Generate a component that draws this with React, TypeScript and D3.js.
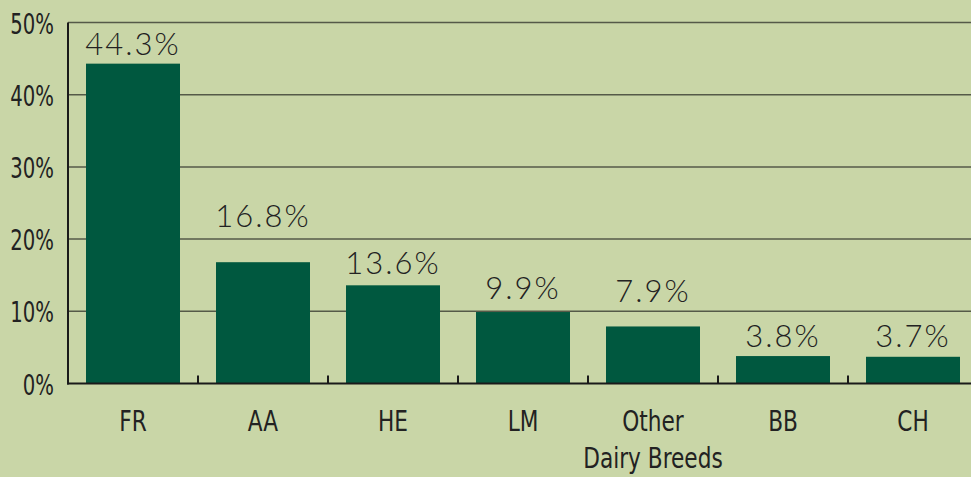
import React from "react";
import * as d3 from "d3";

const categories = ["FR", "AA", "HE", "LM", "Other\nDairy Breeds", "BB", "CH"];
const values = [44.3, 16.8, 13.6, 9.9, 7.9, 3.8, 3.7];
const yTicks = [0, 10, 20, 30, 40, 50];
// gap (px) between each bar top and its value label baseline, as in the original layout
const labelGaps = [9, 35, 11, 13, 24, 9, 10];

const W = 971;
const H = 477;
const BG = "#c9d6a7";
const BAR = "#00583f";
const TEXT = "#222222";
const CONDENSED = "'DejaVu Sans Condensed', 'DejaVu Sans', sans-serif";
const LIGHT = "'Lato Light', Lato, 'Open Sans', sans-serif";

export default function App() {
  const left = 68;
  const x = d3
    .scaleBand<string>()
    .domain(categories)
    .range([left, left + 130 * categories.length])
    .paddingInner(0.277)
    .paddingOuter(0.1385);
  const y = d3.scaleLinear().domain([0, 50]).range([383.5, 22.5]);
  const step = x.step();

  return (
    <svg
      width={W}
      height={H}
      style={{ position: "absolute", left: 0, top: 0, display: "block" }}
    >
      <rect x={0} y={0} width={W} height={H} fill={BG} />
      {yTicks.filter((t) => t > 0).map((t) => (
        <line key={t} x1={left} x2={W} y1={y(t)} y2={y(t)} stroke="#555a48" strokeWidth={1.5} />
      ))}
      {categories.map((c, i) => (
        <rect
          key={c}
          x={x(c)!}
          y={y(values[i])}
          width={x.bandwidth()}
          height={y(0) - y(values[i])}
          fill={BAR}
        />
      ))}
      <line x1={left} x2={left} y1={y(50)} y2={y(0) + 1} stroke="#1a1a1a" strokeWidth={2} />
      <line x1={left - 1} x2={W} y1={y(0)} y2={y(0)} stroke="#1a1a1a" strokeWidth={2} />
      {categories.map((c, i) => (
        <line
          key={"t" + i}
          x1={left + step * (i + 1)}
          x2={left + step * (i + 1)}
          y1={y(0)}
          y2={y(0) - 8}
          stroke="#1a1a1a"
          strokeWidth={2}
        />
      ))}
      {yTicks.map((t) => (
        <text
          key={"yl" + t}
          transform={`translate(54,${y(t) + 11}) scale(0.78,1)`}
          textAnchor="end"
          fontFamily={CONDENSED}
          fontSize={28}
          fill={TEXT}
        >
          {t}%
        </text>
      ))}
      {categories.map((c, i) => (
        <text
          key={"v" + i}
          x={x(c)! + x.bandwidth() / 2}
          y={y(values[i]) - labelGaps[i]}
          textAnchor="middle"
          fontFamily={LIGHT}
          fontWeight={300}
          fontSize={31}
          letterSpacing={2}
          fill={TEXT}
        >
          {values[i].toFixed(1)}%
        </text>
      ))}
      {categories.map((c, i) => (
        <g key={"c" + i} transform={`translate(${x(c)! + x.bandwidth() / 2},0) scale(0.86,1)`}>
          <text textAnchor="middle" fontFamily={CONDENSED} fontSize={28} fill={TEXT}>
            {c.split("\n").map((line, j) => (
              <tspan key={j} x={0} y={431 + j * 37}>
                {line}
              </tspan>
            ))}
          </text>
        </g>
      ))}
    </svg>
  );
}
